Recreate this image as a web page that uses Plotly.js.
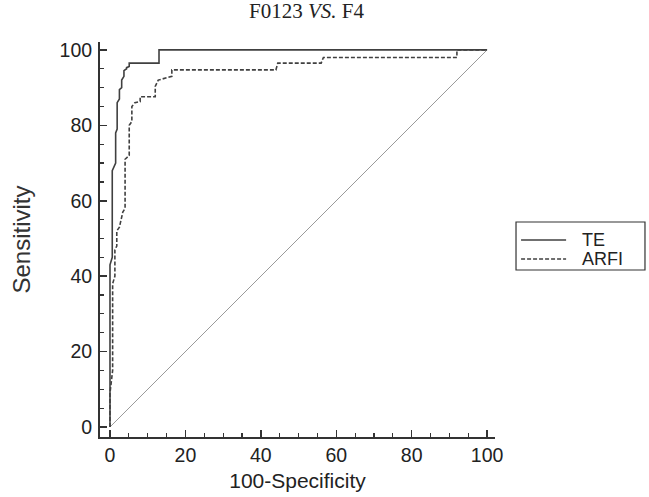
<!DOCTYPE html>
<html>
<head>
<meta charset="utf-8">
<script src="https://cdn.plot.ly/plotly-3.0.1.min.js"></script>
<style>html,body{margin:0;padding:0;background:#fff;}#chart{width:649px;height:497px;}</style>
</head>
<body>
<div id="chart"></div>
<script>
// TE ROC curve (100-Specificity, Sensitivity)
var teX = [0, 0, 0.6, 0.6, 1.5, 1.5, 1.9, 1.9, 2.5, 2.5, 3.1, 3.1, 3.7, 3.7, 4.4, 4.4, 5.1, 5.1, 13, 13, 100];
var teY = [0, 43, 45, 68, 70, 78, 79, 86, 87, 89.5, 90, 92, 93, 94.5, 95, 95.3, 95.6, 96.5, 96.5, 100, 100];
// ARFI ROC curve
var arfiX = [0, 0, 0.7, 0.7, 1.3, 1.3, 1.8, 1.8, 2.5, 3.4, 4.0, 4.0, 5.1, 5.1, 5.8, 5.8, 6.6, 8, 8, 12, 12, 12.8, 16.4, 16.4, 44, 44.5, 56, 56.6, 92, 92, 100];
var arfiY = [0, 9, 15, 38, 40, 47, 48, 52, 53, 57, 58, 71, 72, 80, 81, 85, 86, 86.3, 87.6, 87.6, 90.3, 92, 93, 94.7, 94.7, 96.5, 96.5, 98, 98, 100, 100];
// reference diagonal
var refX = [0, 100];
var refY = [0, 100];
var seriesNames = ['TE', 'ARFI'];
var tickVals = [0, 20, 40, 60, 80, 100];

var lineColor = '#404040';
var traces = [
  {x: refX, y: refY, mode: 'lines', showlegend: false, hoverinfo: 'skip',
   line: {color: '#9a9a9a', width: 1}},
  {x: teX, y: teY, mode: 'lines', name: seriesNames[0], showlegend: false,
   line: {color: lineColor, width: 1.6}},
  {x: arfiX, y: arfiY, mode: 'lines', name: seriesNames[1], showlegend: false,
   line: {color: lineColor, width: 1.6, dash: '4px,2px'}}
];

var sans = 'Liberation Sans, Arial, sans-serif';
var axisCommon = {
  range: [-2.65, 102.1],
  tickvals: tickVals,
  ticks: 'inside', ticklen: 7, tickwidth: 1.5, tickcolor: '#333',
  showline: true, linecolor: '#333', linewidth: 2,
  showgrid: false, zeroline: false,
  tickfont: {family: sans, size: 19.5, color: '#222'},
  minor: {dtick: 5, ticks: 'inside', ticklen: 4, tickwidth: 1.2, tickcolor: '#333', showgrid: false},
  mirror: false
};

// legend drawn in paper coordinates (box, samples, labels)
var legBox = {x0: 1.0532, x1: 1.3797, y0: 0.4228, y1: 0.5443};
var legRows = [0.4987, 0.4506];
var legDash = ['solid', '4px,2px'];
var shapes = [
  {type: 'rect', xref: 'paper', yref: 'paper', x0: legBox.x0, x1: legBox.x1, y0: legBox.y0, y1: legBox.y1,
   line: {color: '#333', width: 1.2}, fillcolor: '#fff'}
];
var annotations = [];
seriesNames.forEach(function (n, i) {
  shapes.push({type: 'line', xref: 'paper', yref: 'paper', x0: 1.066, x1: 1.18, y0: legRows[i], y1: legRows[i],
    line: {color: lineColor, width: 1.4, dash: legDash[i]}});
  annotations.push({xref: 'paper', yref: 'paper', x: 1.2152, y: legRows[i], xanchor: 'left', yanchor: 'middle',
    text: n, showarrow: false, font: {family: sans, size: 18, color: '#222'}});
});

var layout = {
  width: 649, height: 497,
  margin: {l: 100, r: 154, t: 42, b: 60},
  paper_bgcolor: '#fff', plot_bgcolor: '#fff',
  showlegend: false,
  shapes: shapes,
  annotations: annotations,
  title: {
    text: 'F0123 <i>VS.</i> F4',
    font: {family: 'Liberation Serif, Times New Roman, serif', size: 21, color: '#222'},
    x: 0.523, xref: 'paper', xanchor: 'center',
    y: 0.979, yref: 'container', yanchor: 'middle'
  },
  xaxis: Object.assign({}, axisCommon, {
    title: {text: '100-Specificity', standoff: 8,
      font: {family: sans, size: 21, color: '#222'}}
  }),
  yaxis: Object.assign({}, axisCommon, {
    ticklabelstandoff: 2,
    title: {text: 'Sensitivity', standoff: 22,
      font: {family: sans, size: 24, color: '#333'}}
  })
};

Plotly.newPlot('chart', traces, layout, {staticPlot: true, displayModeBar: false});
</script>
</body>
</html>
